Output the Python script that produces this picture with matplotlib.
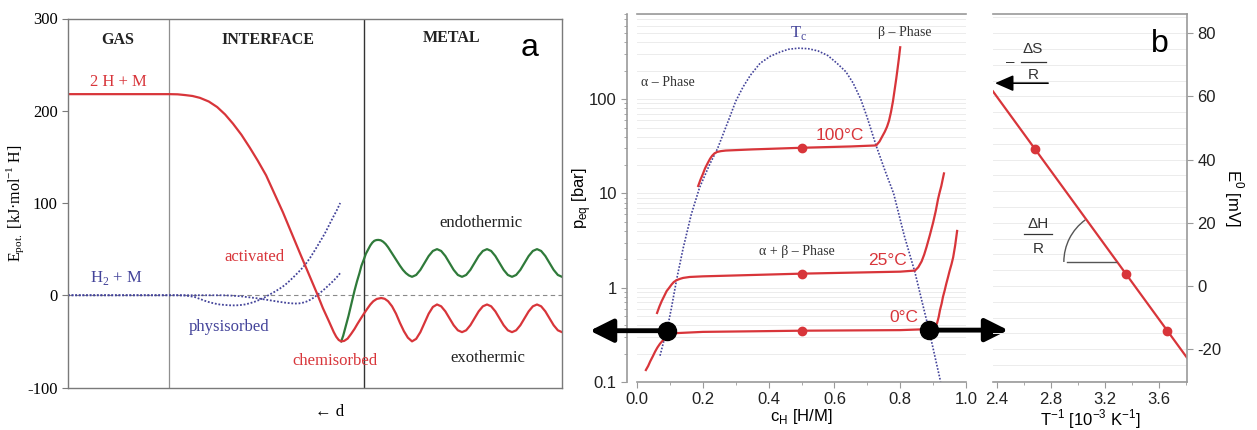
import numpy as np
import matplotlib
matplotlib.use("Agg")
import matplotlib.pyplot as plt
from matplotlib.patches import Arc
from matplotlib.ticker import FixedLocator, NullFormatter, LogLocator

plt.rcParams["axes.unicode_minus"] = False

# ---- panel a: potential energy vs distance from the surface ----
region_bounds = [20.4, 59.9]
region_names = ["GAS", "INTERFACE", "METAL"]

# common x grid for the oscillating bulk part
osc_d = [69.64, 70.48, 71.33, 72.17, 73.01, 73.86, 74.70, 75.54, 76.39, 77.23, 78.07,
         78.92, 79.76, 80.60, 81.45, 82.29, 83.13, 83.98, 84.82, 85.66, 86.51, 87.35,
         88.19, 89.04, 89.88, 90.72, 91.57, 92.41, 93.25, 94.10, 94.94, 95.78, 96.63,
         97.47, 98.31, 99.16, 100.0]

red_d = [0, 20.6, 22.2, 23.7, 25.2, 26.7, 28.5, 30.2, 31.8, 33.4, 35.1, 36.8, 38.4, 40.1,
         43.5, 47.0, 50.4, 51.6, 52.8, 53.8, 54.3, 54.8, 55.3, 55.9, 56.6, 57.3, 58.0,
         58.6, 59.3, 59.9, 60.6, 61.2, 61.8, 62.5, 63.4, 64.1, 64.8, 65.6, 66.4, 67.2,
         68.0, 68.8] + osc_d
red_e = [218, 218, 217.8, 217, 216, 214, 210, 204, 196, 186, 174, 160, 146, 130,
         90, 45, 2, -14, -28, -40, -45, -48.5, -50, -49.5, -47, -42, -36.5,
         -31, -25, -20, -14.5, -10, -6.5, -4, -3, -3.8, -6.5, -12, -20, -30,
         -39, -46,
         -50, -47.3, -40, -30, -20, -12.7, -10,
         -12, -17.5, -25, -32.5, -38, -40,
         -38, -32.5, -25, -17.5, -12, -10,
         -12, -17.5, -25, -32.5, -38, -40,
         -38, -32.5, -25, -17.5, -12, -10,
         -12, -17.5, -25, -32.5, -38, -40]

green_d = [55.3, 55.7, 56.0, 56.4, 56.8, 57.2, 57.6, 58.0, 58.5, 59.0, 59.4, 59.9, 60.3,
           60.8, 61.2, 61.6, 62.0, 62.4, 62.8, 63.3, 63.8, 64.3, 64.8, 65.4, 66.0, 66.6,
           67.2, 67.8, 68.4, 69.0] + osc_d
green_e = [-50, -44, -38, -30, -22, -13, -4, 5, 15, 24, 32, 39, 45,
           50, 54, 57, 59, 59.8, 60, 59.6, 58, 55.5, 52, 47, 42, 37,
           32, 27.5, 24, 21.5,
           20, 22, 27.5, 35, 42.5, 48, 50,
           48, 42.5, 35, 27.5, 22, 20,
           22, 27.5, 35, 42.5, 48, 50,
           48, 42.5, 35, 27.5, 22, 20,
           22, 27.5, 35, 42.5, 48, 50,
           48, 42.5, 35, 27.5, 22, 20]

phys_d = [0, 22, 23.7, 24.7, 25.7, 26.7, 27.7, 28.7, 29.7, 30.7, 31.7, 32.8, 33.8, 34.8,
          35.8, 36.8, 37.8, 38.9, 39.9, 40.9, 41.9, 42.9, 43.9, 44.9, 45.9, 47.0, 48.0,
          49.0, 50.0, 51.0, 52.0, 52.8, 53.6, 54.4, 55.1]
phys_e = [0, 0, -0.3, -1, -2, -4, -6, -7.7, -9, -10, -10.5, -10.9, -11, -10.7,
          -10, -8.7, -7, -4.7, -2, 1, 4, 7.3, 11, 15.8, 21, 27, 33,
          40.5, 49, 58, 67, 75.5, 84, 92, 100]

act_d = [0, 31, 32.8, 34.8, 36.3, 37.9, 39.4, 40.9, 42.4, 43.9, 44.9, 45.9, 46.8, 47.6,
         48.3, 49.0, 49.7, 50.4, 51.2, 52.0, 52.8, 53.6, 54.4, 55.1]
act_e = [0, 0, -0.3, -1, -2, -3, -4.2, -5.5, -6.8, -8, -8.6, -9, -8.8, -8,
         -6.8, -5, -2.7, 0, 3.4, 7, 11, 15, 19.5, 24]

# ---- panel b: pressure-composition isotherms ----
dome_c = [0.070, 0.080, 0.091, 0.105, 0.121, 0.14, 0.165, 0.19, 0.22, 0.245, 0.26, 0.28,
          0.30, 0.322, 0.345, 0.374, 0.405, 0.435, 0.46, 0.49, 0.52, 0.55, 0.58, 0.608,
          0.635, 0.657, 0.68, 0.699, 0.727, 0.755, 0.78, 0.812, 0.845, 0.866, 0.888,
          0.905, 0.923]
dome_p = [0.19, 0.26, 0.35, 0.62, 1.25, 2.6, 6, 11.5, 20, 30, 41, 62,
          95, 134, 180, 240, 285, 316, 338, 347, 343, 325, 290, 240,
          195, 148, 100, 65, 32, 17, 10, 3.6, 1.45, 0.72, 0.35,
          0.19, 0.1]

iso100_c = [0.186, 0.193, 0.20, 0.207, 0.215, 0.222, 0.228, 0.235, 0.243, 0.255, 0.27,
            0.35, 0.5, 0.65, 0.727, 0.737, 0.745, 0.753, 0.76, 0.766, 0.772, 0.778,
            0.783, 0.788, 0.792, 0.796, 0.80]
iso100_p = [12, 14, 16, 18.5, 21, 23.3, 25, 26.5, 27.5, 28.1, 28.5,
            29.3, 30.5, 31.5, 32.3, 35.5, 40, 45, 51, 59, 73, 95,
            125, 165, 210, 270, 355]
iso25_c = [0.061, 0.068, 0.075, 0.083, 0.09, 0.098, 0.105, 0.112, 0.12, 0.13, 0.14, 0.16,
           0.2, 0.5, 0.8, 0.845, 0.855, 0.865, 0.873, 0.88, 0.89, 0.90, 0.908, 0.915,
           0.92, 0.925, 0.929, 0.933]
iso25_p = [0.54, 0.63, 0.72, 0.82, 0.92, 1.0, 1.08, 1.15, 1.2, 1.24, 1.27, 1.3,
           1.32, 1.41, 1.48, 1.52, 1.65, 1.9, 2.25, 2.7, 3.6, 4.9, 6.5, 8.7,
           10.3, 12, 14, 16.3]
iso0_c = [0.027, 0.034, 0.04, 0.048, 0.055, 0.062, 0.07, 0.078, 0.085, 0.092, 0.1, 0.11,
          0.12, 0.2, 0.5, 0.8, 0.9, 0.906, 0.912, 0.917, 0.921, 0.926, 0.93, 0.935,
          0.94, 0.945, 0.95, 0.956, 0.961, 0.967, 0.973]
iso0_p = [0.134, 0.148, 0.165, 0.187, 0.21, 0.232, 0.255, 0.274, 0.29, 0.303, 0.315, 0.324,
          0.33, 0.34, 0.35, 0.355, 0.365, 0.385, 0.42, 0.49, 0.58, 0.68, 0.8, 0.93,
          1.1, 1.28, 1.5, 1.78, 2.1, 2.8, 4.0]
iso_labels = ["100°C", "25°C", "0°C"]
plateau_c = 0.5
plateau_p = [30.5, 1.41, 0.35]
boundary_c = [0.091, 0.888]
boundary_p = [0.35, 0.355]

# ---- panel b: van't Hoff plot ----
fit_x = [2.37, 3.81]
fit_e = [61.6, -22.9]
inv_t = [2.680, 3.354, 3.661]
e0 = [43.4, 3.8, -14.2]

RED = "#d8353a"
GREEN = "#2f7a3a"
BLUE = "#44449a"
SERIF = ["Liberation Serif", "DejaVu Serif"]
SANS = ["Liberation Sans", "DejaVu Sans"]

fig = plt.figure(figsize=(12.57, 4.30), dpi=100)
W, H = 1257, 430


def box(x0, y0, x1, y1):
    return [x0 / W, 1 - y1 / H, (x1 - x0) / W, (y1 - y0) / H]


# ================= panel a =================
ax = fig.add_axes(box(68, 18.5, 562, 387.5))
ax.set_xlim(0, 100)
ax.set_ylim(-100, 300)
for s in ax.spines.values():
    s.set_color("#7a7a7a")
    s.set_linewidth(1.0)
ax.set_xticks([])
ax.set_yticks([-100, 0, 100, 200, 300])
ax.tick_params(axis="y", direction="out", length=4, color="#7a7a7a", labelsize=12)
for lab in ax.get_yticklabels():
    lab.set_family(SERIF)
ax.set_ylabel(r"E$_{\mathregular{pot.}}$ [kJ·mol$^{\mathregular{-1}}$ H]",
              family=SERIF, fontsize=11.5, labelpad=1)

ax.axhline(0, color="#8a8a8a", lw=0.8, ls=(0, (4, 3)), zorder=1)
ax.axvline(region_bounds[0], color="#8f8f8f", lw=0.9)
ax.axvline(region_bounds[1], color="#333333", lw=1.0)

ax.plot(phys_d, phys_e, color=BLUE, lw=1.3, ls=(0, (1, 1)))
ax.plot(act_d, act_e, color=BLUE, lw=1.3, ls=(0, (1, 1)))
ax.plot(green_d, green_e, color=GREEN, lw=1.6)
ax.plot(red_d, red_e, color=RED, lw=1.6)

for name, xc, yc in zip(region_names, [10.1, 40.5, 77.7], [276.7, 276.7, 279]):
    ax.text(xc, yc, name, family=SERIF, weight="bold", fontsize=11.5,
            color="#222222", ha="center", va="center")
ax.text(93.5, 268, "a", family=SANS, fontsize=23, ha="center", va="center")
ax.text(10.1, 231, "2 H + M", family=SERIF, fontsize=12, color=RED, ha="center", va="center")
ax.text(9.7, 18.7, r"H$_{\mathregular{2}}$ + M", family=SERIF, fontsize=12, color=BLUE,
        ha="center", va="center")
ax.text(37.7, 41.5, "activated", family=SERIF, fontsize=12, color=RED, ha="center", va="center")
ax.text(32.6, -34.4, "physisorbed", family=SERIF, fontsize=12, color=BLUE, ha="center", va="center")
ax.text(54.0, -71.3, "chemisorbed", family=SERIF, fontsize=12, color=RED, ha="center", va="center")
ax.text(83.6, 78.3, "endothermic", family=SERIF, fontsize=12, color="#222222", ha="center", va="center")
ax.text(85.0, -68.0, "exothermic", family=SERIF, fontsize=12, color="#222222", ha="center", va="center")
ax.text(53.0, -126.5, "← d", family=SERIF, fontsize=12, ha="center", va="center", clip_on=False)

# ================= panel b, isotherms =================
bx = fig.add_axes(box(637, 14, 966, 382))
bx.set_yscale("log")
bx.set_xlim(0, 1)
bx.set_ylim(0.1, 800)
bx.spines["right"].set_visible(False)
bx.spines["left"].set_position(("outward", 7))
for s in bx.spines.values():
    s.set_color("#9a9a9a")
    s.set_linewidth(1.2)
bx.set_xticks(np.arange(0, 1.01, 0.2))
bx.set_xticklabels(["0.0", "0.2", "0.4", "0.6", "0.8", "1.0"])
bx.xaxis.set_minor_locator(FixedLocator(np.arange(0.1, 1.0, 0.2)))
bx.set_yticks([0.1, 1, 10, 100])
bx.set_yticklabels(["0.1", "1", "10", "100"])
bx.yaxis.set_minor_locator(LogLocator(base=10, subs=np.arange(2, 10), numticks=20))
bx.yaxis.set_minor_formatter(NullFormatter())
bx.tick_params(which="major", direction="out", length=4, color="#9a9a9a", labelsize=12,
               labelcolor="#222222")
bx.tick_params(which="minor", direction="out", length=2, color="#9a9a9a")
for lab in bx.get_xticklabels() + bx.get_yticklabels():
    lab.set_family(SANS)
bx.yaxis.grid(True, which="both", color="#ececec", lw=0.7)
bx.set_axisbelow(True)
bx.set_xlabel(r"c$_{\mathregular{H}}$ [H/M]", family=SANS, fontsize=12, labelpad=0)
bx.set_ylabel(r"p$_{\mathregular{eq}}$ [bar]", family=SANS, fontsize=12, labelpad=-3)

bx.plot(dome_c, dome_p, color=BLUE, lw=1.2, ls=(0, (1, 1)))
for cs, ps in [(iso100_c, iso100_p), (iso25_c, iso25_p), (iso0_c, iso0_p)]:
    bx.plot(cs, ps, color=RED, lw=1.6)
bx.plot([plateau_c] * 3, plateau_p, "o", color=RED, ms=6, zorder=4)

for lab, xc, yc in zip(iso_labels, [0.617, 0.76, 0.812], [41.5, 1.96, 0.48]):
    bx.text(xc, yc, lab, family=SANS, fontsize=12.5, color=RED, ha="center", va="center")
bx.text(0.49, 500, r"T$_{\mathregular{c}}$", family=SERIF, fontsize=12, color=BLUE,
        ha="center", va="center")
bx.text(0.815, 515, "β – Phase", family=SERIF, fontsize=10, color="#333333", ha="center", va="center")
bx.text(0.093, 149, "α – Phase", family=SERIF, fontsize=10, color="#333333", ha="center", va="center")
bx.text(0.485, 2.4, "α + β – Phase", family=SERIF, fontsize=10, color="#333333",
        ha="center", va="center")

arrow = dict(arrowstyle="-|>,head_length=0.7,head_width=0.35", lw=3.5, color="black",
             mutation_scale=20, shrinkA=0, shrinkB=0)
bx.annotate("", xy=(-0.143, boundary_p[0]), xytext=(boundary_c[0], boundary_p[0]),
            arrowprops=arrow, annotation_clip=False)
bx.annotate("", xy=(1.128, boundary_p[1]), xytext=(boundary_c[1], boundary_p[1]),
            arrowprops=arrow, annotation_clip=False)
bx.plot(boundary_c, boundary_p, "o", color="black", ms=13, zorder=6, clip_on=False)

# ================= panel b, van't Hoff =================
tx = fig.add_axes(box(993, 14, 1187, 382))
tx.patch.set_visible(False)
tx.set_xlim(2.37, 3.807)
tx.set_ylim(-30.4, 86.1)
tx.spines["left"].set_visible(False)
for s in tx.spines.values():
    s.set_color("#9a9a9a")
    s.set_linewidth(1.2)
tx.yaxis.tick_right()
tx.yaxis.set_label_position("right")
tx.set_xticks([2.4, 2.8, 3.2, 3.6])
tx.xaxis.set_minor_locator(FixedLocator([2.6, 3.0, 3.4, 3.8]))
tx.set_yticks([-20, 0, 20, 40, 60, 80])
tx.yaxis.set_minor_locator(FixedLocator(np.arange(-30, 86, 5)))
tx.tick_params(which="major", direction="out", length=4, color="#9a9a9a", labelsize=12,
               labelcolor="#222222")
tx.tick_params(which="minor", axis="x", direction="out", length=2, color="#9a9a9a")
tx.tick_params(which="minor", axis="y", length=0)
for lab in tx.get_xticklabels() + tx.get_yticklabels():
    lab.set_family(SANS)
tx.yaxis.grid(True, which="both", color="#ececec", lw=0.7)
tx.set_axisbelow(True)
tx.set_xlabel(r"T$^{\mathregular{-1}}$ [10$^{\mathregular{-3}}$ K$^{\mathregular{-1}}$]",
              family=SANS, fontsize=12, labelpad=0)
tx.set_ylabel(r"E$^{\mathregular{0}}$ [mV]", family=SANS, fontsize=12, rotation=270,
              labelpad=17)

tx.plot(fit_x, fit_e, color=RED, lw=1.6)
tx.plot(inv_t, e0, "o", color=RED, ms=6)

tx.text(3.607, 76.7, "b", family=SANS, fontsize=23, ha="center", va="center")
# -dS/R intercept marker
tx.text(2.50, 71.0, "–", family=SANS, fontsize=11, ha="center", va="center", color="#333333")
tx.text(2.665, 75.0, "ΔS", family=SANS, fontsize=11, ha="center", va="center", color="#333333")
tx.plot([2.575, 2.76], [70.9, 70.9], color="#333333", lw=0.9)
tx.text(2.665, 66.8, "R", family=SANS, fontsize=11, ha="center", va="center", color="#333333")
tx.annotate("", xy=(2.385, 64.2), xytext=(2.778, 64.2),
            arrowprops=dict(arrowstyle="-|>,head_length=0.8,head_width=0.35", lw=1.2,
                            color="black", mutation_scale=14, shrinkA=0, shrinkB=0),
            annotation_clip=False)
# dH/R slope marker: angle between the fit line and a horizontal
tx.text(2.704, 19.6, "ΔH", family=SANS, fontsize=11, ha="center", va="center", color="#333333")
tx.plot([2.60, 2.81], [16.3, 16.3], color="#333333", lw=0.9)
tx.text(2.704, 11.6, "R", family=SANS, fontsize=11, ha="center", va="center", color="#333333")
tx.plot([2.918, 3.28], [7.6, 7.6], color="#555555", lw=1.0)
arc_w, arc_h = 2 * 52 / 135, 2 * 52 * 0.3165
# Arc stretches angles by width/height, so pre-compensate to get a round on-screen arc
start = np.degrees(np.arctan2(np.sin(np.radians(126)) * arc_h / arc_w, np.cos(np.radians(126))))
tx.add_patch(Arc((3.28, 7.6), arc_w, arc_h, theta1=start, theta2=180,
                 color="#555555", lw=1.0))

fig.savefig("out.png", dpi=100)
